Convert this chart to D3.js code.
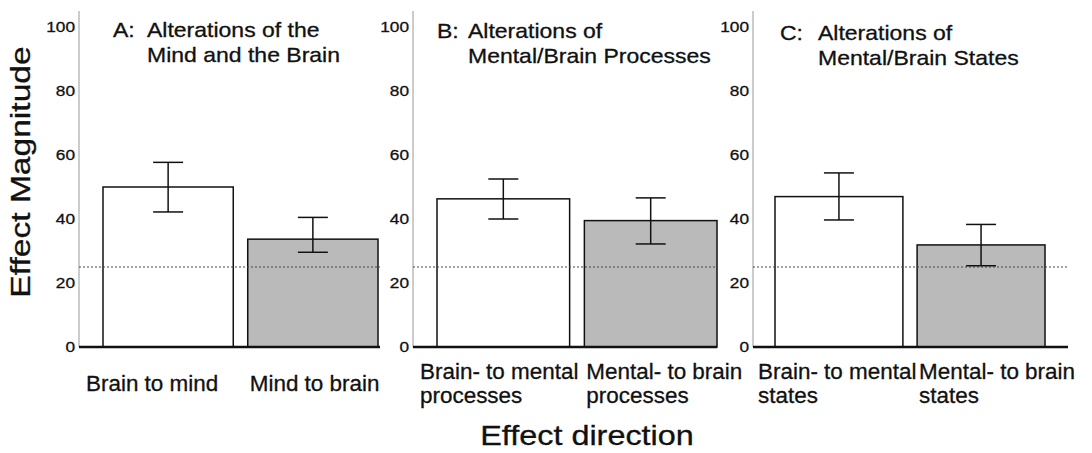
<!DOCTYPE html>
<html>
<head>
<meta charset="utf-8">
<script src="https://cdn.jsdelivr.net/npm/d3@7"></script>
<style>
  body { margin: 0; background: #fff; }
  svg { display: block; font-family: 'Liberation Sans', Arial, sans-serif; }
  svg text { stroke: #111; stroke-width: 0.3px; }
</style>
</head>
<body>
<svg width="1092" height="453"></svg>
<script>
// data
const panelLetters = ['A', 'B', 'C']
const panelTitles = [
  ['Alterations of the', 'Mind and the Brain'],
  ['Alterations of', 'Mental/Brain Processes'],
  ['Alterations of', 'Mental/Brain States']
]
const categories = [
  [['Brain to mind'], ['Mind to brain']],
  [['Brain- to mental', 'processes'], ['Mental- to brain', 'processes']],
  [['Brain- to mental', 'states'], ['Mental- to brain', 'states']]
]
const means = [[50, 33.7], [46.3, 39.5], [47, 31.9]]
const upper = [[57.7, 40.5], [52.5, 46.6], [54.4, 38.3]]
const lower = [[42.2, 29.6], [40, 32.2], [39.7, 25.4]]
const yTicks = [0, 20, 40, 60, 80, 100]
const chance = 25

// layout of the three panels
const layout = [
  { axisX: 79, x0: 103, x1: 378, right: 380, letterX: 113, titleX: 147, titleY: 37 },
  { axisX: 413, x0: 437, x1: 717, right: 717, letterX: 437, titleX: 468, titleY: 38 },
  { axisX: 753, x0: 775, x1: 1045, right: 1068, letterX: 780, titleX: 818, titleY: 40 }
]
const labelShift = [-17, 2]
const fills = ['#ffffff', '#bababa']

const svg = d3.select('svg')

const y = d3.scaleLinear().domain([0, 105]).range([347, 11])

panelLetters.forEach(function(letter, p) {
  const L = layout[p]
  const g = svg.append('g')

  const x = d3
    .scaleBand()
    .domain([0, 1])
    .range([L.x0, L.x1])
    .paddingInner(0.1)

  // tick labels
  const axis = g
    .append('g')
    .attr('transform', 'translate(' + L.axisX + ',0)')
    .call(
      d3
        .axisLeft(y)
        .tickValues(yTicks)
        .tickSize(0)
        .tickPadding(4)
    )
  axis.select('.domain').remove()
  axis
    .selectAll('text')
    .attr('font-family', null)
    .attr('font-size', 15)
    .attr('fill', '#111')
    .attr('transform', 'scale(1.15,1)')
    .attr('x', -4 / 1.15)

  // y axis line
  g.append('line')
    .attr('x1', L.axisX)
    .attr('x2', L.axisX)
    .attr('y1', y(0))
    .attr('y2', y(105))
    .attr('stroke', '#999')
    .attr('stroke-width', 1)

  // bars
  g.selectAll('rect.bar')
    .data(means[p])
    .enter()
    .append('rect')
    .attr('class', 'bar')
    .attr('x', function(d, i) {
      return x(i)
    })
    .attr('width', x.bandwidth())
    .attr('y', function(d) {
      return y(d)
    })
    .attr('height', function(d) {
      return y(0) - y(d)
    })
    .attr('fill', function(d, i) {
      return fills[i]
    })
    .attr('stroke', '#111')
    .attr('stroke-width', 1.5)

  // chance line
  g.append('line')
    .attr('x1', L.axisX)
    .attr('x2', L.right)
    .attr('y1', y(chance))
    .attr('y2', y(chance))
    .attr('stroke', '#444')
    .attr('stroke-width', 1)
    .attr('stroke-dasharray', '2,2')

  // error bars
  const capW = 30
  const err = g
    .selectAll('g.err')
    .data(means[p])
    .enter()
    .append('g')
    .attr('class', 'err')
    .attr('stroke', '#111')
    .attr('stroke-width', 1.5)
  err
    .append('line')
    .attr('x1', function(d, i) {
      return x(i) + x.bandwidth() / 2
    })
    .attr('x2', function(d, i) {
      return x(i) + x.bandwidth() / 2
    })
    .attr('y1', function(d, i) {
      return y(upper[p][i])
    })
    .attr('y2', function(d, i) {
      return y(lower[p][i])
    })
  ;[upper[p], lower[p]].forEach(function(vals) {
    err
      .append('line')
      .attr('x1', function(d, i) {
        return x(i) + x.bandwidth() / 2 - capW / 2
      })
      .attr('x2', function(d, i) {
        return x(i) + x.bandwidth() / 2 + capW / 2
      })
      .attr('y1', function(d, i) {
        return y(vals[i])
      })
      .attr('y2', function(d, i) {
        return y(vals[i])
      })
  })

  // baseline
  g.append('line')
    .attr('x1', L.axisX)
    .attr('x2', L.right)
    .attr('y1', y(0))
    .attr('y2', y(0))
    .attr('stroke', '#111')
    .attr('stroke-width', 2.5)

  // panel title
  g.append('text')
    .attr('transform', 'translate(' + L.letterX + ',' + L.titleY + ') scale(1.15,1)')
    .attr('font-size', 20)
    .attr('fill', '#111')
    .text(letter + ':')
  panelTitles[p].forEach(function(line, k) {
    g.append('text')
      .attr('transform', 'translate(' + L.titleX + ',' + (L.titleY + k * 25) + ') scale(1.15,1)')
      .attr('font-size', 20)
      .attr('fill', '#111')
      .text(line)
  })

  // category labels
  categories[p].forEach(function(lines, i) {
    const startY = lines.length === 1 ? 391 : 379
    lines.forEach(function(line, k) {
      g.append('text')
        .attr('transform', 'translate(' + (x(i) + labelShift[i]) + ',' + (startY + k * 24) + ') scale(1.02,1)')
        .attr('font-size', 22)
        .attr('fill', '#111')
        .text(line)
    })
  })
})

// axis titles
svg
  .append('text')
  .attr('transform', 'translate(30,172) rotate(-90) scale(1.2,1)')
  .attr('text-anchor', 'middle')
  .attr('font-size', 28)
  .attr('fill', '#111')
  .text('Effect Magnitude')

svg
  .append('text')
  .attr('transform', 'translate(587,445) scale(1.2,1)')
  .attr('text-anchor', 'middle')
  .attr('font-size', 27)
  .attr('fill', '#111')
  .text('Effect direction')
</script>
</body>
</html>
